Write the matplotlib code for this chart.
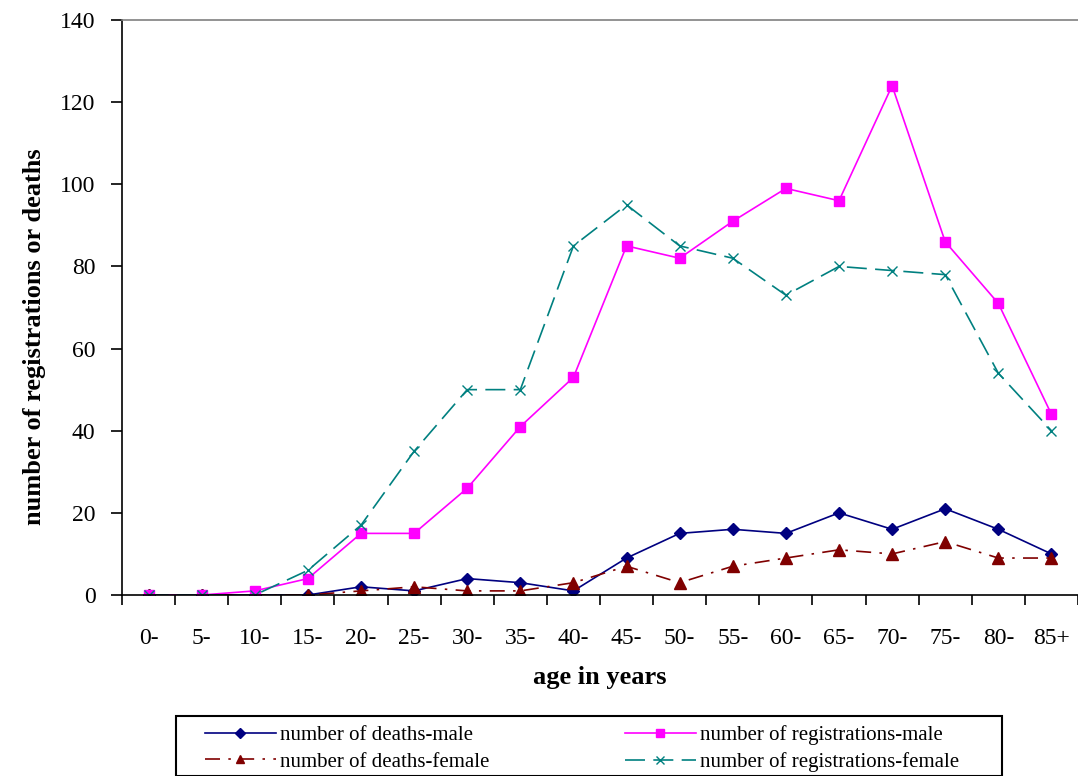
import matplotlib.pyplot as plt
from matplotlib.patches import Rectangle
import numpy as np

plt.rcParams['font.family'] = ['Liberation Serif', 'DejaVu Serif']

# age groups
ages = ["0-", "5-", "10-", "15-", "20-", "25-", "30-", "35-", "40-", "45-",
        "50-", "55-", "60-", "65-", "70-", "75-", "80-", "85+"]

deaths_male = [0, 0, 0, 0, 2, 1, 4, 3, 1, 9, 15, 16, 15, 20, 16, 21, 16, 10]
deaths_female = [0, 0, 0, 0, 1, 2, 1, 1, 3, 7, 3, 7, 9, 11, 10, 13, 9, 9]
reg_male = [0, 0, 1, 4, 15, 15, 26, 41, 53, 85, 82, 91, 99, 96, 124, 86, 71, 44]
reg_female = [0, 0, 0, 6, 17, 35, 50, 50, 85, 95, 85, 82, 73, 80, 79, 78, 54, 40]

x = np.arange(len(ages))
W, H = 1078, 776

fig = plt.figure(figsize=(W / 100, H / 100), dpi=100)
ax = fig.add_axes([122 / W, 1 - 595 / H, (W - 122) / W, 575 / H])

l1, = ax.plot(x, deaths_male, color='#000080', marker='D', markersize=6.5,
              lw=1.2, label='number of deaths-male')
l2, = ax.plot(x, deaths_female, color='#800000', marker='^', markersize=8,
              lw=1.2, dashes=(9, 5, 1.5, 5), label='number of deaths-female')
l3, = ax.plot(x, reg_male, color='#ff00ff', marker='s', markersize=7.5,
              lw=1.2, label='number of registrations-male')
l4, = ax.plot(x, reg_female, color='#008080', marker='x', markersize=6.5,
              lw=1.2, dashes=(12, 5), label='number of registrations-female')

ax.set_xlim(-0.5, len(ages) - 0.5)
ax.set_ylim(0, 140)
ax.set_yticks(np.arange(0, 141, 20))
ax.set_xticks(x)
ax.set_xticklabels(ages)
ax.set_xticks(np.arange(-0.5, len(ages), 1), minor=True)
ax.tick_params(axis='x', which='major', length=0, pad=24, labelsize=17)
ax.tick_params(axis='x', which='minor', length=7, direction='out', width=1.2)
ax.tick_params(axis='y', length=8, direction='out', width=1.2, labelsize=17,
               pad=11)

ax.spines['right'].set_visible(False)
for s in ['left', 'bottom', 'top']:
    ax.spines[s].set_linewidth(1.2)
ax.spines['top'].set_color('#808080')

ax.set_xlabel('age in years', fontsize=19, fontweight='bold', labelpad=12)
ax.set_ylabel('number of registrations or deaths', fontsize=19,
              fontweight='bold')
ax.yaxis.set_label_coords(-76 / 956, 0.45)

# legend box
fig.patches.append(Rectangle((176 / W, 0), (1002 - 176) / W, 1 - 716 / H,
                             transform=fig.transFigure, fill=False,
                             edgecolor='black', lw=1.5))
leg = fig.legend(handles=[l1, l2, l3, l4], ncol=2, loc='upper left',
                 bbox_to_anchor=(205 / W, 1 - 725 / H),
                 fontsize=15, frameon=False,
                 handlelength=3.4, handletextpad=0.2, borderaxespad=0,
                 borderpad=0, labelspacing=0.35, columnspacing=6.5,
                 markerscale=0.8)

fig.savefig('out.png', dpi=100)
